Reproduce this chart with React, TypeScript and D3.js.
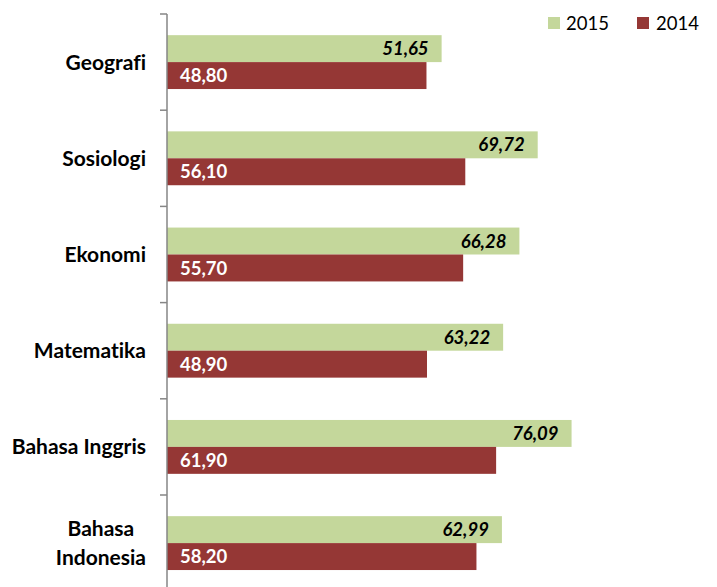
import React, { useEffect, useRef } from "react";
import * as d3 from "d3";

// Rata-rata nilai per mata pelajaran, 2015 vs 2014
const categories = ["Geografi", "Sosiologi", "Ekonomi", "Matematika", "Bahasa Inggris", "Bahasa Indonesia"];
const categoryLines = [["Geografi"], ["Sosiologi"], ["Ekonomi"], ["Matematika"], ["Bahasa Inggris"], ["Bahasa", "Indonesia"]];
const series = ["2015", "2014"];
const values2015 = [51.65, 69.72, 66.28, 63.22, 76.09, 62.99];
const values2014 = [48.8, 56.1, 55.7, 48.9, 61.9, 58.2];

const W = 717;
const H = 587;
const AXIS_X = 167;
const TOP = 14;
const FONT = "Lato, 'Open Sans', sans-serif";
const COLORS: Record<string, string> = { "2015": "#c4d79b", "2014": "#953735" };

const fmt = (v: number) => v.toFixed(2).replace(".", ",");

export default function App() {
  const ref = useRef<SVGSVGElement | null>(null);

  useEffect(() => {
    const svg = d3.select(ref.current);
    svg.selectAll("*").remove();

    const step = 96.2;
    const y = d3
      .scaleBand<string>()
      .domain(categories)
      .range([TOP, TOP + step * categories.length])
      .paddingInner(0.44)
      .paddingOuter(0.22);
    const y1 = d3.scaleBand<string>().domain(series).range([0, y.bandwidth()]);
    const x = d3.scaleLinear().domain([0, 100]).range([AXIS_X, AXIS_X + 531.7]);

    const rows = categories.map((c, i) => ({ c, i, v15: values2015[i], v14: values2014[i] }));

    const g = svg.append("g").style("font-variant-ligatures", "none");

    // bars
    rows.forEach((r) => {
      const y0 = y(r.c)!;
      g.append("rect")
        .attr("x", x(0)).attr("y", y0 + y1("2015")!)
        .attr("width", x(r.v15) - x(0)).attr("height", y1.bandwidth())
        .attr("fill", COLORS["2015"]);
      g.append("rect")
        .attr("x", x(0)).attr("y", y0 + y1("2014")!)
        .attr("width", x(r.v14) - x(0)).attr("height", y1.bandwidth())
        .attr("fill", COLORS["2014"]);

      g.append("text")
        .attr("x", x(r.v15) - 13).attr("y", y0 + y1("2015")! + y1.bandwidth() / 2)
        .attr("dy", "0.36em").attr("text-anchor", "end")
        .attr("font-family", FONT).attr("font-size", 18.5).attr("font-weight", 700)
        .attr("font-style", "italic").attr("fill", "#000")
        .text(fmt(r.v15));
      g.append("text")
        .attr("x", x(0) + 13).attr("y", y0 + y1("2014")! + y1.bandwidth() / 2)
        .attr("dy", "0.36em").attr("text-anchor", "start")
        .attr("font-family", FONT).attr("font-size", 18.5).attr("font-weight", 700)
        .attr("fill", "#fff")
        .text(fmt(r.v14));
    });

    // axis line + ticks at band boundaries
    g.append("line")
      .attr("x1", AXIS_X).attr("x2", AXIS_X)
      .attr("y1", TOP).attr("y2", TOP + step * categories.length)
      .attr("stroke", "#868686").attr("stroke-width", 1.5);
    d3.range(categories.length + 1).forEach((k) => {
      const ty = TOP + k * step;
      g.append("line")
        .attr("x1", AXIS_X - 7).attr("x2", AXIS_X)
        .attr("y1", ty).attr("y2", ty)
        .attr("stroke", "#868686").attr("stroke-width", 1.5);
    });

    // category labels (right aligned block, lines centred in block)
    rows.forEach((r) => {
      const lines = categoryLines[r.i];
      const cy = y(r.c)! + y.bandwidth() / 2;
      const lh = 29;
      const t = g.append("text")
        .attr("font-family", FONT).attr("font-size", 21).attr("font-weight", 700)
        .attr("fill", "#000").attr("text-anchor", "middle");
      const spans = lines.map((ln, j) =>
        t.append("tspan")
          .attr("y", cy + (j - (lines.length - 1) / 2) * lh)
          .attr("dy", "0.36em")
          .text(ln)
      );
      const maxW = d3.max(spans.map((s) => (s.node() as SVGTSpanElement).getComputedTextLength())) ?? 0;
      spans.forEach((s) => s.attr("x", 146 - maxW / 2));
    });

    // legend
    const legend = [
      { key: "2015", sx: 548, tx: 566 },
      { key: "2014", sx: 637, tx: 656 },
    ];
    legend.forEach((l) => {
      g.append("rect").attr("x", l.sx).attr("y", 17).attr("width", 12).attr("height", 12).attr("fill", COLORS[l.key]);
      g.append("text")
        .attr("x", l.tx).attr("y", 23).attr("dy", "0.36em")
        .attr("font-family", FONT).attr("font-size", 18.5).attr("fill", "#000")
        .text(l.key);
    });
  }, []);

  return (
    <svg
      ref={ref}
      width={W}
      height={H}
      style={{ position: "absolute", left: 0, top: 0, background: "#fff" }}
    />
  );
}
